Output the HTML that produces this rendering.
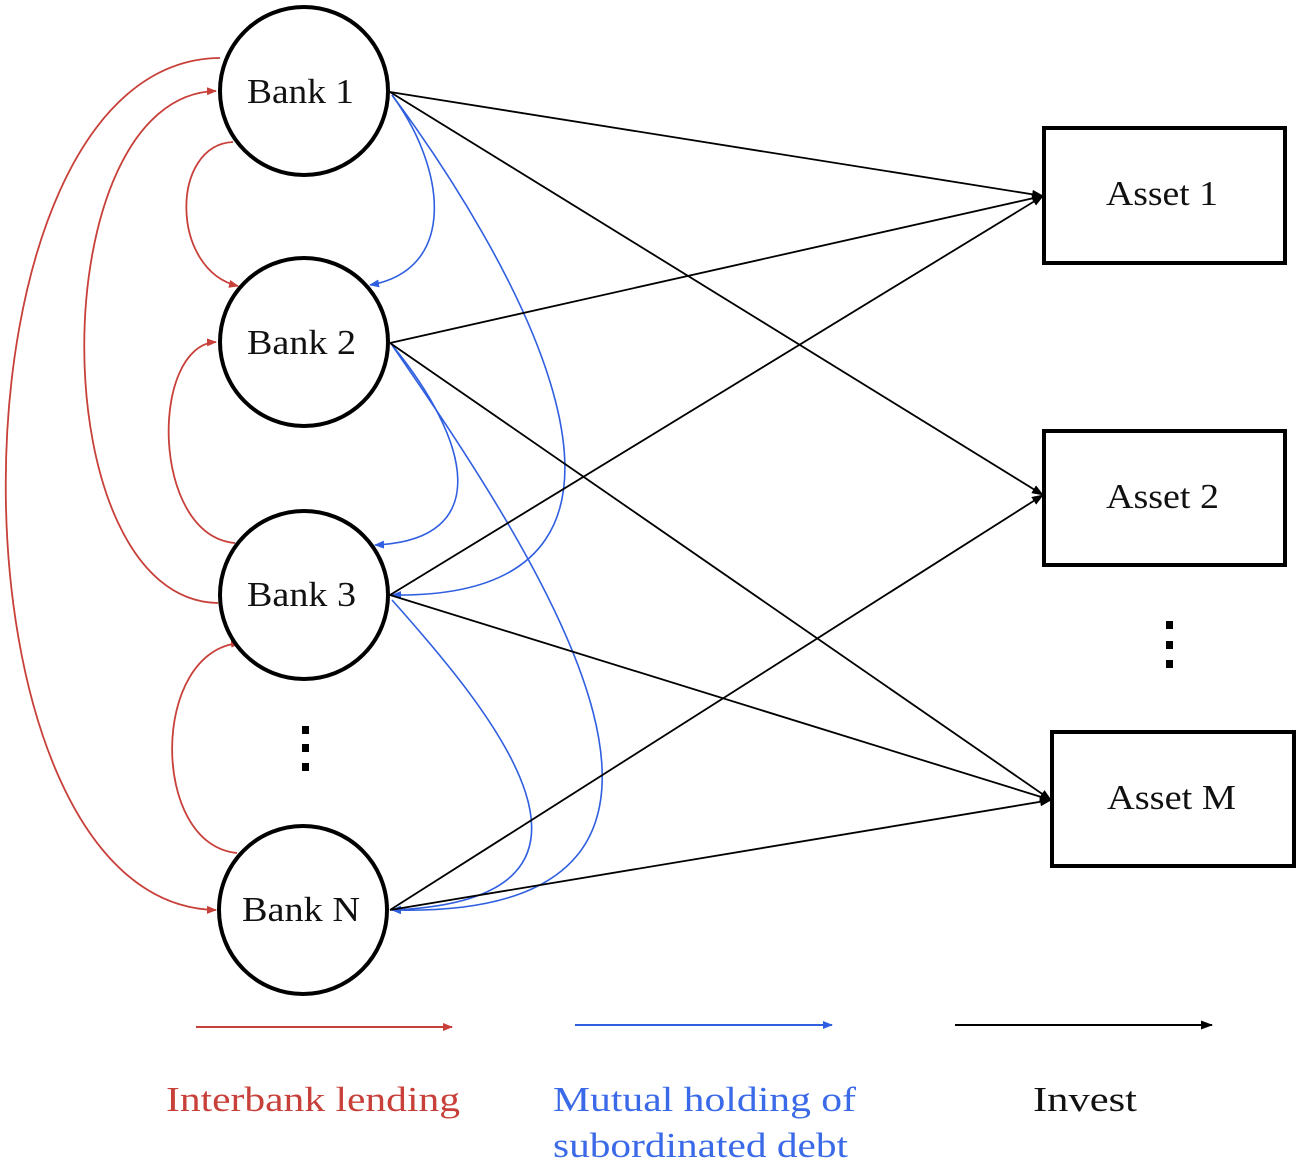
<!DOCTYPE html>
<html><head><style>body{margin:0;background:#fff}svg{display:block}</style></head><body>
<svg width="1301" height="1169" viewBox="0 0 1301 1169" xmlns="http://www.w3.org/2000/svg" font-family="Liberation Serif, serif">
<defs>
<marker id="r" markerWidth="10" markerHeight="8" refX="9" refY="4" orient="auto" markerUnits="userSpaceOnUse"><path d="M0,0 L10,4 L0,8 z" fill="#c8403a"/></marker>
<marker id="b" markerWidth="10" markerHeight="8" refX="9" refY="4" orient="auto" markerUnits="userSpaceOnUse"><path d="M0,0 L10,4 L0,8 z" fill="#2f5fe0"/></marker>
<marker id="k" markerWidth="12" markerHeight="9" refX="11" refY="4.5" orient="auto" markerUnits="userSpaceOnUse"><path d="M0,0 L12,4.5 L0,9 z" fill="#000"/></marker>
</defs>
<g fill="none" stroke="#c8403a" stroke-width="1.8">
<path d="M220,58 C-65,60 -65,905 216,910" marker-end="url(#r)"/>
<path d="M218,603 C40,600 40,95 216,91" marker-end="url(#r)"/>
<path d="M233,142 C170,145 170,270 238,286" marker-end="url(#r)"/>
<path d="M235,543 C150,535 150,345 216,342" marker-end="url(#r)"/>
<path d="M237,853 C150,845 150,650 240,643" marker-end="url(#r)"/>
</g>
<g fill="none" stroke="#2f5fe0" stroke-width="1.6">
<path d="M392,95 C447,170 457,270 370,285" marker-end="url(#b)"/>
<path d="M392,95 C500,240 720,600 392,595" marker-end="url(#b)"/>
<path d="M392,345 C470,440 495,540 375,545" marker-end="url(#b)"/>
<path d="M392,345 C540,560 780,920 392,910" marker-end="url(#b)"/>
<path d="M392,600 C490,710 650,900 392,910" marker-end="url(#b)"/>
</g>
<g stroke="#000" stroke-width="1.8">
<line x1="390" y1="92" x2="1043" y2="196" marker-end="url(#k)"/>
<line x1="390" y1="92" x2="1043" y2="495" marker-end="url(#k)"/>
<line x1="390" y1="343" x2="1043" y2="196" marker-end="url(#k)"/>
<line x1="390" y1="343" x2="1051" y2="800" marker-end="url(#k)"/>
<line x1="390" y1="595" x2="1043" y2="196" marker-end="url(#k)"/>
<line x1="390" y1="595" x2="1051" y2="800" marker-end="url(#k)"/>
<line x1="390" y1="910" x2="1043" y2="495" marker-end="url(#k)"/>
<line x1="390" y1="910" x2="1051" y2="800" marker-end="url(#k)"/>
</g>
<g fill="#fff" stroke="#000" stroke-width="4">
<circle cx="304" cy="91" r="84"/>
<circle cx="304" cy="342" r="84"/>
<circle cx="304" cy="595" r="84"/>
<circle cx="303" cy="910" r="84"/>
<rect x="1044" y="128" width="241" height="135"/>
<rect x="1044" y="431" width="241" height="134"/>
<rect x="1052" y="732" width="242" height="134"/>
</g>
<g font-size="35" fill="#111" lengthAdjust="spacingAndGlyphs">
<text x="247" y="103" textLength="107" lengthAdjust="spacingAndGlyphs">Bank 1</text>
<text x="247" y="354" textLength="109" lengthAdjust="spacingAndGlyphs">Bank 2</text>
<text x="247" y="606" textLength="109" lengthAdjust="spacingAndGlyphs">Bank 3</text>
<text x="242" y="921" textLength="118" lengthAdjust="spacingAndGlyphs">Bank N</text>
<text x="1106" y="205" textLength="112" lengthAdjust="spacingAndGlyphs">Asset 1</text>
<text x="1106" y="508" textLength="113" lengthAdjust="spacingAndGlyphs">Asset 2</text>
<text x="1107" y="809" textLength="129" lengthAdjust="spacingAndGlyphs">Asset M</text>
</g>
<g fill="#000">
<rect x="302" y="726" width="7" height="8"/><rect x="302" y="744" width="7" height="8"/><rect x="302" y="763" width="7" height="8"/>
<rect x="1166" y="621" width="7" height="8"/><rect x="1166" y="641" width="7" height="8"/><rect x="1166" y="660" width="7" height="8"/>
</g>
<line x1="196" y1="1027" x2="452" y2="1027" stroke="#c8403a" stroke-width="2" marker-end="url(#r)"/>
<line x1="575" y1="1025" x2="832" y2="1025" stroke="#2f5fe0" stroke-width="2" marker-end="url(#b)"/>
<line x1="955" y1="1025" x2="1212" y2="1025" stroke="#000" stroke-width="2" marker-end="url(#k)"/>
<g font-size="35">
<text x="166" y="1111" fill="#c8403a" textLength="294" lengthAdjust="spacingAndGlyphs">Interbank lending</text>
<text x="553" y="1111" fill="#3b6ae8" textLength="303" lengthAdjust="spacingAndGlyphs">Mutual holding of</text>
<text x="553" y="1157" fill="#3b6ae8" textLength="295" lengthAdjust="spacingAndGlyphs">subordinated debt</text>
<text x="1033" y="1111" fill="#111" textLength="104" lengthAdjust="spacingAndGlyphs">Invest</text>
</g>
</svg>
</body></html>
